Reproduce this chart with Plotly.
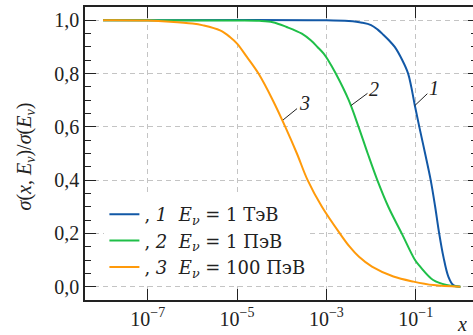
import numpy as np
import plotly.graph_objects as go

# lg(x) and normalised cross-section sigma(x, E)/sigma(E) for three neutrino energies
lg_x_1tev = [-8, -3, -2.5, -2.2, -2.0, -1.85, -1.72, -1.6, -1.47, -1.30, -1.17,
             -1.10, -1.02, -0.92, -0.79, -0.665, -0.565, -0.475, -0.38, -0.27, -0.16, 0]
sigma_1tev = [1.0, 1.0, 0.997, 0.991, 0.982, 0.965, 0.945, 0.925, 0.90, 0.85, 0.80,
              0.75, 0.68, 0.60, 0.50, 0.40, 0.30, 0.20, 0.112, 0.038, 0.006, 0.0]

lg_x_1pev = [-8, -5, -4.5, -4.2, -3.89, -3.55, -3.35, -3.2, -3.06, -2.96, -2.79,
             -2.50, -2.28, -2.075, -1.86, -1.614, -1.314, -1.016, -0.90, -0.61, -0.31, 0]
sigma_1pev = [1.0, 0.9995, 0.998, 0.993, 0.975, 0.95, 0.925, 0.90, 0.875, 0.85, 0.80,
              0.70, 0.60, 0.50, 0.40, 0.30, 0.20, 0.10, 0.075, 0.025, 0.006, 0.0]

lg_x_100pev = [-8, -7, -6.5, -6, -5.76, -5.38, -5.16, -5.0, -4.78, -4.52, -4.2, -3.92,
               -3.66, -3.42, -3.1, -2.70, -2.48, -2.27, -1.98, -1.5, -1.05, -0.6, 0]
sigma_100pev = [1.0, 0.999, 0.995, 0.988, 0.981, 0.962, 0.9375, 0.9125, 0.8625, 0.80, 0.70,
                0.60, 0.50, 0.40, 0.30, 0.20, 0.15, 0.112, 0.075, 0.038, 0.019, 0.006, 0.0]

curve_ids = ["1", "2", "3"]
energies = ["1 ТэВ", "1 ПэВ", "100 ПэВ"]
colors = ["#1258a6", "#1fbf48", "#ff9a0a"]

# curve label anchors (lg x, sigma) and text offsets in px
label_points = [(-1.02, 0.68), (-2.45, 0.68), (-3.97, 0.626)]
label_offsets = [(19, -18), (23, -17), (21, -17)]

x_ticks = [1e-7, 1e-5, 1e-3, 1e-1]
x_ticktext = ["10<sup>−7</sup>", "10<sup>−5</sup>", "10<sup>−3</sup>", "10<sup>−1</sup>"]
y_ticks = [0.0, 0.2, 0.4, 0.6, 0.8, 1.0]
y_ticktext = ["0,0", "0,2", "0,4", "0,6", "0,8", "1,0"]

FONT = "Liberation Serif, DejaVu Serif, serif"
LEGEND_FONT = "DejaVu Serif, Liberation Serif, serif"
INK = "#222222"
GRID = "#c4c4c4"
y_range = [-0.05, 1.05]

fig = go.Figure()
series = [(lg_x_1tev, sigma_1tev), (lg_x_1pev, sigma_1pev), (lg_x_100pev, sigma_100pev)]
for (lg, sig), cid, energy, color in zip(series, curve_ids, energies, colors):
    fig.add_trace(go.Scatter(
        x=10 ** np.array(lg, dtype=float), y=sig, mode="lines",
        line=dict(color=color, width=2, shape="spline", smoothing=1.0),
        name=f", <i>{cid}</i>  <i>E</i><sub><i>ν</i></sub> = {energy}",
        hoverinfo="skip",
    ))

# carrier for the right-hand tick axis
fig.add_trace(go.Scatter(x=[1e-8, 1], y=[0, 1], mode="none", yaxis="y2",
                         showlegend=False, hoverinfo="skip"))

for (lgx, yv), (dx, dy), cid in zip(label_points, label_offsets, curve_ids):
    fig.add_annotation(
        x=lgx, y=yv, xref="x", yref="y", text=f"<i>{cid}</i>",
        showarrow=True, arrowhead=0, arrowwidth=1, arrowcolor=INK,
        ax=dx, ay=dy, standoff=0,
        font=dict(family=FONT, size=20, color=INK),
    )

fig.add_annotation(
    x=0, y=0.49, xref="paper", yref="paper", xshift=-60,
    text="<i>σ</i>(<i>x</i>, <i>E</i><sub><i>ν</i></sub>)/<i>σ</i>(<i>E</i><sub><i>ν</i></sub>)",
    textangle=-90, showarrow=False, xanchor="center", yanchor="middle",
    font=dict(family=FONT, size=20, color=INK),
)
fig.add_annotation(
    x=1, y=-0.082, xref="paper", yref="paper", xshift=-4, text="<i>x</i>",
    showarrow=False, xanchor="right", yanchor="middle", height=18,
    font=dict(family=FONT, size=20, color=INK),
)

fig.update_layout(
    width=473, height=335,
    margin=dict(l=85, r=0, t=7, b=35),
    paper_bgcolor="white", plot_bgcolor="white",
    font=dict(family=FONT, size=20, color=INK),
    showlegend=True,
    legend=dict(
        x=0.05, y=0.355, xanchor="left", yanchor="top",
        bgcolor="white", borderwidth=0,
        font=dict(family=LEGEND_FONT, size=18, color=INK),
        tracegroupgap=0,
    ),
    xaxis=dict(
        type="log", range=[-8.404, 0.282],
        tickvals=x_ticks, ticktext=x_ticktext,
        ticks="inside", ticklen=11, tickwidth=1, tickcolor=INK,
        showline=True, linewidth=1.5, linecolor=INK, mirror="ticks",
        showgrid=True, gridcolor=GRID, gridwidth=1, griddash="5px,4px",
        zeroline=False,
        tickfont=dict(family=FONT, size=20, color=INK),
    ),
    yaxis=dict(
        range=y_range,
        tickvals=y_ticks, ticktext=y_ticktext,
        ticks="inside", ticklen=11, tickwidth=1, tickcolor=INK,
        minor=dict(dtick=0.05, tick0=0, ticks="inside", ticklen=6,
                   tickwidth=1, tickcolor=INK, showgrid=False),
        showline=True, linewidth=1.5, linecolor=INK,
        showgrid=True, gridcolor=GRID, gridwidth=1, griddash="5px,4px",
        zeroline=False,
        tickfont=dict(family=FONT, size=20, color=INK),
    ),
    yaxis2=dict(
        overlaying="y", side="right", anchor="x", range=y_range,
        tickvals=y_ticks, showticklabels=False,
        ticks="inside", ticklen=5, tickwidth=1, tickcolor=INK,
        minor=dict(dtick=0.05, tick0=0, ticks="inside", ticklen=2,
                   tickwidth=1, tickcolor=INK, showgrid=False),
        showline=False, showgrid=False, zeroline=False,
    ),
)

fig.write_html("out.html")
